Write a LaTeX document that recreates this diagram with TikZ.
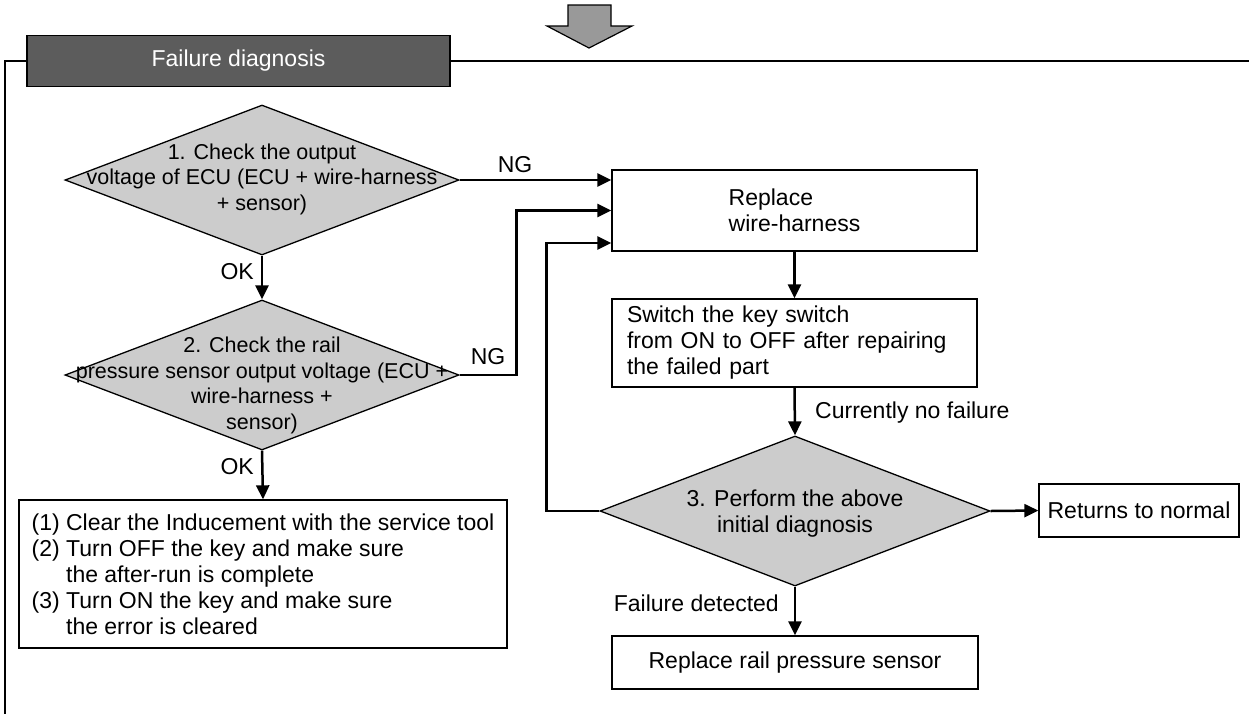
\documentclass[tikz,border=0pt]{standalone}
\usepackage{fontspec}
\setmainfont{Liberation Sans}
\usetikzlibrary{shapes.geometric,arrows.meta}
\definecolor{diafill}{gray}{0.80}
\definecolor{headfill}{gray}{0.36}
\definecolor{arrowfill}{gray}{0.60}
\begin{document}
\begin{tikzpicture}[x=1pt,y=-1pt,
  txt/.style={font=\fontsize{23}{26}\selectfont},
  dtxt/.style={font=\fontsize{21.5}{25.5}\selectfont, align=center, inner sep=0},
  box/.style={draw, line width=1.3pt, fill=white, inner sep=0, txt},
  dia/.style={diamond, draw, line width=1.3pt, fill=diafill, inner sep=0,
    minimum width=394pt, minimum height=150pt},
  flow/.style={line width=2.5pt, -{Triangle[length=14pt,width=13pt]}},
  lbl/.style={txt, inner sep=0},
]
\useasboundingbox (0,0) rectangle (1249,718);

% incoming block arrow
\draw[line width=1.2pt, fill=arrowfill, line join=miter]
  (568,5) -- (611,5) -- (611,26) -- (632,26) -- (589,48) -- (547,26) -- (568,26) -- cycle;

% section header and frame
\node[draw, line width=1.2pt, fill=headfill, text=white, txt,
  minimum width=423pt, minimum height=51pt, inner sep=0] (head) at (238.5,61) {Failure diagnosis};
\coordinate (frameL) at (5,714);
\coordinate (frameR) at (1249,61);
\draw[line width=1.2pt] (head.west) -- (5,61) -- (frameL);
\draw[line width=1.2pt] (head.east) -- (frameR);

% decisions
\node[dia] (d1) at (262,180) {};
\node[dtxt] (d1t) at (262,179) {1. Check the output\\voltage of ECU (ECU + wire-harness\\+ sensor)};
\node[dia] (d2) at (262,375) {};
\node[dtxt] (d2t) at (262,385.5) {2. Check the rail\\pressure sensor output voltage (ECU +\\wire-harness +\\sensor)};
\node[dia, minimum width=390pt] (d3) at (795,511) {};
\node[dtxt, font=\fontsize{23}{26}\selectfont] (d3t) at (795,514) {3. Perform the above\\initial diagnosis};

% actions
\node[box, minimum width=365pt, minimum height=81pt, align=left] (rw) at (794.5,210.5)
  {Replace\\wire-harness};
\node[box, minimum width=365pt, minimum height=88pt, text width=335pt, align=left] (sw) at (794.5,343)
  {Switch the key switch\\from ON to OFF after repairing\\the failed part};
\node[box, minimum width=200pt, minimum height=53pt] (rn) at (1139,510.5) {Returns to normal};
\node[box, minimum width=366pt, minimum height=53pt] (rp) at (795,662.5) {Replace rail pressure sensor};
\node[box, minimum width=488pt, minimum height=148pt, align=left] (lb) at (263,574)
  {(1) Clear the Inducement with the service tool\\
   (2) Turn OFF the key and make sure\\
   \hphantom{(2) }the after-run is complete\\
   (3) Turn ON the key and make sure\\
   \hphantom{(3) }the error is cleared};

% connectors
\draw[flow] (d1.east) -- (d1.east -| rw.west);
\node[lbl] (ng1) at (515,165) {NG};
\draw[flow] (d2.east) -- ++(57,0) |- (rw.west);
\node[lbl] (ng2) at (488,357) {NG};
\draw[flow] (d3.west) -- ++(-53,0) |- ([yshift=-32.5pt]rw.west);
\draw[flow] (d1.south) -- (d2.north);
\node[lbl, anchor=east] (ok1) at (254,272) {OK};
\draw[flow] (d2.south) -- (lb.north);
\node[lbl, anchor=east] (ok2) at (254,467) {OK};
\draw[flow] (rw.south) -- (sw.north);
\draw[flow] (sw.south) -- (d3.north);
\node[lbl, anchor=west] (cnf) at (815,413) {Currently no failure};
\draw[flow] (d3.east) -- (rn.west);
\draw[flow] (d3.south) -- (rp.north);
\node[lbl, anchor=east] (fd) at (779,603) {Failure detected};
\end{tikzpicture}
\end{document}
